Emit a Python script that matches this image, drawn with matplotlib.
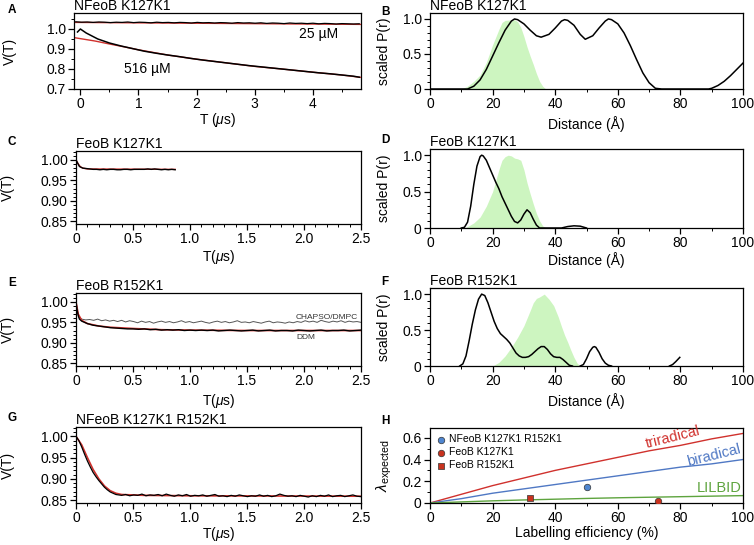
import numpy as np
import matplotlib
matplotlib.use("Agg")
import matplotlib.pyplot as plt
from matplotlib.ticker import MultipleLocator

plt.rcParams['font.family'] = ['Liberation Sans', 'DejaVu Sans']
plt.rcParams['font.size'] = 10
plt.rcParams['mathtext.fontset'] = 'custom'
plt.rcParams['mathtext.rm'] = 'Liberation Sans'
plt.rcParams['mathtext.it'] = 'Liberation Sans:italic'

RED = '#d0312d'
GREEN_FILL = '#cdf5c0'

# ---- A: NFeoB K127K1 time traces ----
a25_t = np.linspace(-0.08, 4.8, 50)
a25_v = [1.036, 1.034, 1.035, 1.033, 1.035, 1.034, 1.032, 1.034, 1.033, 1.035,
         1.032, 1.034, 1.033, 1.031, 1.034, 1.032, 1.033, 1.031, 1.033, 1.032,
         1.030, 1.033, 1.031, 1.032, 1.030, 1.032, 1.031, 1.029, 1.032, 1.030,
         1.031, 1.029, 1.031, 1.028, 1.030, 1.029, 1.027, 1.030, 1.028, 1.029,
         1.027, 1.029, 1.026, 1.028, 1.027, 1.025, 1.027, 1.026, 1.025, 1.026]
a25_fit_t = [-0.11, 4.83]
a25_fit_v = [1.033, 1.023]

a516_t = [-0.05, 0.0, 0.05, 0.1, 0.2, 0.3, 0.4, 0.5, 0.7, 0.9, 1.1, 1.3, 1.5, 1.7,
          1.9, 2.1, 2.3, 2.5, 2.7, 2.9, 3.1, 3.3, 3.5, 3.7, 3.9, 4.1, 4.3, 4.5, 4.7, 4.8]
a516_v = [0.985, 1.0, 0.99, 0.98, 0.965, 0.95, 0.94, 0.93, 0.915, 0.902, 0.889, 0.879,
          0.870, 0.862, 0.853, 0.845, 0.838, 0.831, 0.824, 0.817, 0.811, 0.805, 0.799,
          0.793, 0.787, 0.781, 0.776, 0.770, 0.764, 0.759]
a516_fit_t = [-0.11, 0.25, 0.5, 0.75, 1.0, 1.5, 2.0, 2.5, 3.0, 3.5, 4.0, 4.5, 4.83]
a516_fit_v = [0.957, 0.94, 0.925, 0.911, 0.896, 0.870, 0.849, 0.831, 0.813, 0.799,
              0.784, 0.770, 0.758]

# ---- B: NFeoB K127K1 distance distribution ----
b_r = [0, 12, 14, 16, 18, 20, 22, 24, 26, 27, 28, 30, 32, 34, 35.5, 38, 40, 42, 43,
       44, 46, 48, 49.6, 52, 54, 56, 57, 58, 60, 62, 64, 66, 68, 70, 72, 74, 89,
       90, 92, 94, 96, 98, 100]
b_p = [0, 0, 0.04, 0.13, 0.28, 0.47, 0.66, 0.84, 0.97, 1.0, 0.99, 0.93, 0.84, 0.76,
       0.74, 0.78, 0.87, 0.97, 0.99, 0.98, 0.91, 0.78, 0.71, 0.76, 0.87, 0.97, 1.0,
       0.99, 0.93, 0.8, 0.62, 0.42, 0.23, 0.09, 0.01, 0, 0, 0.01, 0.05, 0.11, 0.19,
       0.28, 0.37]
b_gr = [10, 12, 14, 16, 18, 20, 22, 23, 24, 27, 28, 29, 30, 31, 32, 33, 34, 35, 36, 37]
b_gp = [0.0, 0.04, 0.11, 0.2, 0.38, 0.63, 0.85, 0.95, 0.98, 0.99, 0.96, 0.88, 0.75,
        0.6, 0.47, 0.35, 0.22, 0.11, 0.04, 0.0]

# ---- C: FeoB K127K1 time trace ----
c_t = np.linspace(0, 0.87, 30)
c_v = [1.0, 0.984, 0.980, 0.979, 0.978, 0.977, 0.977, 0.976, 0.977, 0.976,
       0.977, 0.977, 0.976, 0.976, 0.977, 0.977, 0.976, 0.977, 0.977, 0.977,
       0.977, 0.978, 0.977, 0.978, 0.977, 0.976, 0.977, 0.976, 0.977, 0.976]
c_fit_t = [0, 0.02, 0.04, 0.06, 0.1, 0.87]
c_fit_v = [1.0, 0.99, 0.983, 0.980, 0.978, 0.977]

# ---- D: FeoB K127K1 distance distribution ----
d_r = [10, 11, 12, 13, 14, 15, 16, 16.5, 17, 18, 19, 20, 21, 22, 23, 24, 25, 26, 27,
       28, 29, 30, 31, 32, 33, 34, 35, 42, 44, 46, 48, 50]
d_p = [0, 0.01, 0.08, 0.3, 0.6, 0.85, 0.98, 1.0, 0.99, 0.93, 0.83, 0.73, 0.63, 0.54,
       0.43, 0.34, 0.25, 0.16, 0.09, 0.07, 0.11, 0.19, 0.25, 0.21, 0.12, 0.04, 0,
       0, 0.02, 0.03, 0.025, 0]
d_gr = [11, 12, 14, 16, 18, 20, 22, 23, 24, 25, 26, 27, 28, 29, 30, 31, 32, 33, 34,
        35, 36, 37]
d_gp = [0, 0.02, 0.07, 0.15, 0.3, 0.5, 0.8, 0.93, 0.98, 1.0, 0.99, 0.96, 0.95, 0.93,
        0.8, 0.62, 0.47, 0.33, 0.2, 0.1, 0.03, 0]

# ---- E: FeoB R152K1 time traces ----
e_t = np.concatenate([[0, 0.01, 0.02, 0.03], np.linspace(0.05, 2.5, 50)])
e_v = [1.0, 0.98, 0.966, 0.958,
       0.953, 0.947, 0.943, 0.941, 0.939, 0.937, 0.936, 0.935, 0.934, 0.934,
       0.933, 0.934, 0.932, 0.933, 0.931, 0.932, 0.931, 0.932, 0.930, 0.931,
       0.930, 0.931, 0.930, 0.931, 0.929, 0.930, 0.931, 0.930, 0.929, 0.930,
       0.931, 0.929, 0.930, 0.931, 0.929, 0.930, 0.930, 0.929, 0.931, 0.930,
       0.929, 0.930, 0.931, 0.929, 0.930, 0.930, 0.931, 0.929, 0.930, 0.931]
e_fit_t = [0, 0.02, 0.05, 0.1, 0.2, 0.3, 0.5, 0.75, 1.0, 1.5, 2.5]
e_fit_v = [1.0, 0.97, 0.955, 0.947, 0.941, 0.938, 0.935, 0.932, 0.931, 0.930, 0.930]
e_lip_t = np.concatenate([[0, 0.01, 0.02, 0.03], np.linspace(0.05, 2.5, 71)])
e_lip_v = [1.0, 0.98, 0.968, 0.962,
           0.958, 0.956, 0.957, 0.955, 0.958, 0.954, 0.956, 0.953, 0.955, 0.952,
           0.955, 0.951, 0.954, 0.952, 0.949, 0.953, 0.950, 0.952, 0.948, 0.951,
           0.953, 0.950, 0.952, 0.949, 0.951, 0.954, 0.950, 0.952, 0.949, 0.951,
           0.953, 0.950, 0.948, 0.951, 0.953, 0.950, 0.952, 0.949, 0.951, 0.954,
           0.950, 0.951, 0.949, 0.952, 0.950, 0.948, 0.951, 0.953, 0.949, 0.951,
           0.950, 0.948, 0.951, 0.949, 0.952, 0.950, 0.954, 0.951, 0.953, 0.950,
           0.955, 0.952, 0.950, 0.953, 0.951, 0.954, 0.950, 0.953, 0.951, 0.952,
           0.950]
e_lip_label = 'CHAPSO/DMPC'
e_ddm_label = 'DDM'

# ---- F: FeoB R152K1 distance distribution ----
f_r = [9.5, 10.5, 11.5, 12.5, 13.5, 14.5, 15.5, 16.5, 17.5, 18.5, 19.5, 20.5, 21.5,
       22.5, 23.5, 24.5, 25.5, 26.5, 27.5, 28.5, 29.5, 30.5, 31.5, 32.5, 33.5, 34.5,
       35.5, 36.5, 37.5, 38.5, 39.5, 40.5, 41.5, 42.5, 43.5, 44.5, 45.5, np.nan,
       48, 49, 50, 51, 52, 52.5, 53, 54, 55, 56, 57, 58, np.nan,
       76.5, 77.5, 78.5, 79.8]
f_p = [0, 0.03, 0.14, 0.35, 0.58, 0.78, 0.93, 1.0, 0.98, 0.88, 0.75, 0.62, 0.52,
       0.45, 0.41, 0.37, 0.32, 0.25, 0.18, 0.14, 0.12, 0.12, 0.13, 0.16, 0.2, 0.24,
       0.27, 0.27, 0.23, 0.17, 0.13, 0.12, 0.12, 0.09, 0.05, 0.01, 0, np.nan,
       0, 0.02, 0.1, 0.2, 0.26, 0.27, 0.26, 0.19, 0.1, 0.04, 0.01, 0, np.nan,
       0, 0.02, 0.06, 0.12]
f_gr = [20, 22, 24, 26, 28, 30, 32, 33, 34, 35, 36.5, 38, 39.5, 41, 42, 43, 44, 45,
        46, 47, 48]
f_gp = [0, 0.05, 0.14, 0.26, 0.4, 0.56, 0.77, 0.88, 0.94, 0.96, 1.0, 0.93, 0.84,
        0.68, 0.55, 0.43, 0.33, 0.22, 0.12, 0.04, 0]

# ---- G: NFeoB K127K1 R152K1 time trace ----
g_t = np.concatenate([np.linspace(0, 0.35, 15), np.linspace(0.4, 2.5, 60)])
g_v = [1.0, 0.99, 0.975, 0.958, 0.942, 0.928, 0.915, 0.905, 0.896, 0.888, 0.88,
       0.874, 0.869, 0.866, 0.863,
       0.861, 0.863, 0.860, 0.862, 0.861, 0.864, 0.860, 0.862, 0.861, 0.863,
       0.860, 0.864, 0.861, 0.859, 0.862, 0.860, 0.863, 0.859, 0.861, 0.860,
       0.862, 0.859, 0.861, 0.863, 0.859, 0.860, 0.858, 0.861, 0.859, 0.862,
       0.860, 0.858, 0.860, 0.859, 0.862, 0.859, 0.861, 0.858, 0.860, 0.864,
       0.861, 0.859, 0.860, 0.858, 0.861, 0.859, 0.857, 0.860, 0.858, 0.861,
       0.859, 0.862, 0.858, 0.860, 0.861, 0.858, 0.860, 0.862, 0.859, 0.858]
g_fit_t = [0, 0.05, 0.1, 0.15, 0.2, 0.25, 0.3, 0.35, 0.4, 0.6, 1.0, 2.5]
g_fit_v = [1.0, 0.98, 0.95, 0.922, 0.9, 0.883, 0.872, 0.866, 0.863, 0.861, 0.860, 0.859]

# ---- H: expected lambda vs labelling efficiency ----
h_eff = [0, 10, 20, 30, 40, 50, 60, 70, 80, 90, 100]
h_tri = [0, 0.08, 0.16, 0.23, 0.30, 0.36, 0.42, 0.48, 0.53, 0.59, 0.64]
h_bi = [0, 0.04, 0.09, 0.13, 0.17, 0.21, 0.25, 0.29, 0.33, 0.36, 0.40]
h_lil = [0, 0.01, 0.02, 0.028, 0.035, 0.042, 0.048, 0.053, 0.058, 0.063, 0.068]
h_pts_name = ['NFeoB K127K1 R152K1', 'FeoB K127K1', 'FeoB R152K1']
h_pts_x = [50, 73, 32]
h_pts_y = [0.15, 0.02, 0.05]


def style(ax):
    for s in ax.spines.values():
        s.set_linewidth(0.9)
    ax.tick_params(direction='out', length=4, width=0.9, labelsize=10, pad=2)
    ax.tick_params(which='minor', direction='out', length=2, width=0.7)


fig = plt.figure(figsize=(7.54, 5.45), dpi=100)
W, H = 754, 545


def add_axes(l, r, t, b):
    return fig.add_axes([l / W, 1 - b / H, (r - l) / W, (b - t) / H])


axA = add_axes(74, 361, 13, 89)
axB = add_axes(430, 743, 13, 89)
axC = add_axes(76, 361, 151, 224)
axD = add_axes(430, 743, 149, 228)
axE = add_axes(76, 361, 293, 366)
axF = add_axes(430, 743, 288, 366)
axG = add_axes(76, 361, 427, 503)
axH = add_axes(430, 743, 428, 503)

# A
axA.plot(a25_fit_t, a25_fit_v, color=RED, lw=1.0)
axA.plot(a25_t, a25_v, color='black', lw=0.9)
axA.plot(a516_fit_t, a516_fit_v, color=RED, lw=1.0)
axA.plot(a516_t, a516_v, color='black', lw=1.1)
axA.set_xlim(-0.11, 4.83)
axA.set_ylim(0.7, 1.08)
axA.set_xticks([0, 1, 2, 3, 4])
axA.set_yticks([0.7, 0.8, 0.9, 1.0])
axA.xaxis.set_minor_locator(MultipleLocator(0.5))
axA.yaxis.set_minor_locator(MultipleLocator(0.05))
axA.text(4.1, 0.975, '25 µM', ha='center', va='center')
axA.text(1.15, 0.8, '516 µM', ha='center', va='center')
axA.set_xlabel(r'T ($\mu$s)')
axA.xaxis.set_label_coords(0.5, -0.29)
axA.set_ylabel('V(T)')
axA.yaxis.set_label_coords(-0.2, 0.5)
axA.set_title('NFeoB K127K1', loc='left', pad=1, fontsize=10)

# distance panels
for ax, rr, pp, gr, gp, title, xl_y in [(axB, b_r, b_p, b_gr, b_gp, 'NFeoB K127K1', -0.36),
                                        (axD, d_r, d_p, d_gr, d_gp, 'FeoB K127K1', -0.31),
                                        (axF, f_r, f_p, f_gr, f_gp, 'FeoB R152K1', -0.34)]:
    ax.fill_between(gr, 0, gp, color=GREEN_FILL, lw=0)
    ax.plot(rr, pp, color='black', lw=1.1)
    ax.set_xlim(0, 100)
    ax.set_ylim(0, 1.085)
    ax.set_xticks([0, 20, 40, 60, 80, 100])
    ax.set_yticks([0, 0.5, 1.0])
    ax.set_yticklabels(['0', '0.5', '1.0'])
    ax.xaxis.set_minor_locator(MultipleLocator(10))
    ax.yaxis.set_minor_locator(MultipleLocator(0.1))
    ax.set_xlabel('Distance (Å)')
    ax.xaxis.set_label_coords(0.5, xl_y)
    ax.set_ylabel('scaled P(r)')
    ax.yaxis.set_label_coords(-0.125, 0.5)
    ax.set_title(title, loc='left', pad=1, fontsize=10)

# time panels C, E, G
axC.plot(c_fit_t, c_fit_v, color=RED, lw=1.0)
axC.plot(c_t, c_v, color='black', lw=1.0)
axE.plot(e_lip_t, e_lip_v, color='#555555', lw=0.7)
axE.plot(e_fit_t, e_fit_v, color=RED, lw=1.2)
axE.plot(e_t, e_v, color='black', lw=1.0)
axE.text(2.2, 0.963, e_lip_label, fontsize=6, ha='center', va='center', color='#333333')
axE.text(2.02, 0.914, e_ddm_label, fontsize=6, ha='center', va='center', color='#333333')
axG.plot(g_fit_t, g_fit_v, color=RED, lw=1.2)
axG.plot(g_t, g_v, color='black', lw=0.9)

for ax, title, xl_y in [(axC, 'FeoB K127K1', -0.33), (axE, 'FeoB R152K1', -0.36),
                        (axG, 'NFeoB K127K1 R152K1', -0.29)]:
    ax.set_xlim(0, 2.5)
    ax.set_ylim(0.843, 1.022)
    ax.set_xticks([0, 0.5, 1.0, 1.5, 2.0, 2.5])
    ax.set_xticklabels(['0', '0.5', '1.0', '1.5', '2.0', '2.5'])
    ax.set_yticks([0.85, 0.90, 0.95, 1.00])
    ax.set_yticklabels(['0.85', '0.90', '0.95', '1.00'])
    ax.xaxis.set_minor_locator(MultipleLocator(0.1))
    ax.yaxis.set_minor_locator(MultipleLocator(0.01))
    ax.set_xlabel(r'T($\mu$s)')
    ax.xaxis.set_label_coords(0.5, xl_y)
    ax.set_ylabel('V(T)')
    ax.yaxis.set_label_coords(-0.215, 0.5)
    ax.set_title(title, loc='left', pad=1, fontsize=10)

# H
axH.plot(h_eff, h_tri, color=RED, lw=1.0)
axH.plot(h_eff, h_bi, color='#4f78c4', lw=1.0)
axH.plot(h_eff, h_lil, color='#5ea43e', lw=1.0)
axH.scatter(h_pts_x[0], h_pts_y[0], s=22, marker='o', color='#4f86d0',
            edgecolor='#333333', lw=0.5, label=h_pts_name[0], zorder=3)
axH.scatter(h_pts_x[1], h_pts_y[1], s=22, marker='o', color='#c8321e',
            edgecolor='#333333', lw=0.5, label=h_pts_name[1], zorder=3)
axH.scatter(h_pts_x[2], h_pts_y[2], s=22, marker='s', color='#c8321e',
            edgecolor='#333333', lw=0.5, label=h_pts_name[2], zorder=3)
axH.text(77.5, 0.6, 'triradical', color=RED, fontsize=10.5, rotation=14,
         ha='center', va='center')
axH.text(90.5, 0.435, 'biradical', color='#4f78c4', fontsize=10.5, rotation=14,
         ha='center', va='center')
axH.text(92.5, 0.14, 'LILBID', color='#5ea43e', fontsize=10.5, ha='center', va='center')
axH.set_xlim(0, 100)
axH.set_ylim(0, 0.69)
axH.set_xticks([0, 20, 40, 60, 80, 100])
axH.set_yticks([0, 0.2, 0.4, 0.6])
axH.set_yticklabels(['0', '0.2', '0.4', '0.6'])
axH.xaxis.set_minor_locator(MultipleLocator(10))
axH.yaxis.set_minor_locator(MultipleLocator(0.1))
axH.set_xlabel('Labelling efficiency (%)')
axH.xaxis.set_label_coords(0.5, -0.3)
axH.set_ylabel(r'$\lambda_{\mathrm{expected}}$', fontsize=11)
axH.yaxis.set_label_coords(-0.115, 0.5)
axH.legend(loc='upper left', fontsize=7.5, frameon=False, handletextpad=0.2,
           borderaxespad=0.2, labelspacing=0.3, handlelength=1.0)

for ax in [axA, axB, axC, axD, axE, axF, axG, axH]:
    style(ax)

for letter, x, y in [('A', 8, 10), ('B', 381, 12), ('C', 8, 142), ('D', 381, 140),
                     ('E', 8, 283), ('F', 381, 282), ('G', 8, 418), ('H', 381, 421)]:
    fig.text(x / W, 1 - y / H, letter, fontsize=8.5, fontweight='bold',
             ha='left', va='center')

fig.savefig('out.png', dpi=100)
